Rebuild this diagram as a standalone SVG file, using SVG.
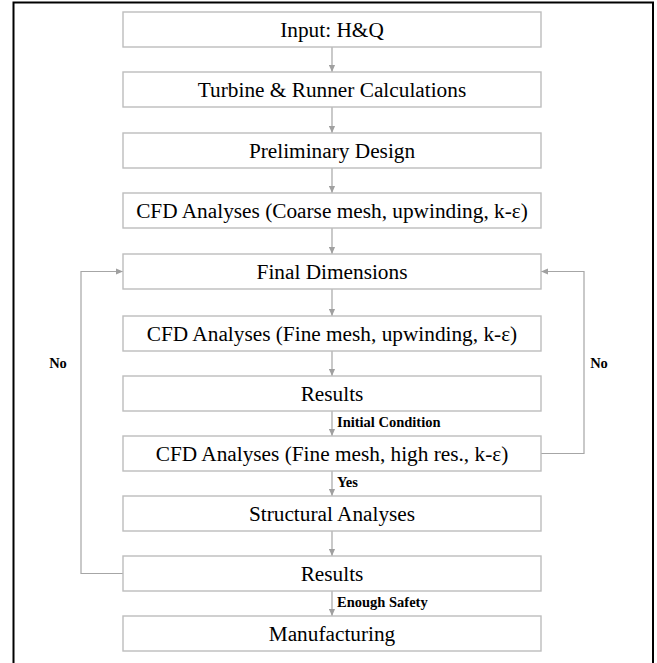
<svg xmlns="http://www.w3.org/2000/svg" width="657" height="663" viewBox="0 0 657 663">
  <style>
    .box { fill: #ffffff; stroke: #bdbdbd; stroke-width: 1.4; }
    .txt { font-family: 'Liberation Serif', 'Times New Roman', serif; font-size: 21.3px; fill: #000; text-anchor: middle; }
    .lbl { font-family: 'Liberation Serif', 'Times New Roman', serif; font-size: 14.5px; font-weight: bold; fill: #000; }
    .edge { fill: none; stroke: #a6a6a6; stroke-width: 1.2; }
  </style>
  <defs>
    <marker id="arrow" viewBox="0 0 8 8" refX="8" refY="4" markerWidth="7" markerHeight="7" markerUnits="userSpaceOnUse" orient="auto">
      <path d="M0,0.5 L8,4 L0,7.5 Z" fill="#a0a0a0"/>
    </marker>
  </defs>
  <rect width="657" height="663" fill="#ffffff"/>
  <!-- frame, open at the bottom edge of the canvas -->
  <rect x="13.5" y="2.5" width="639.5" height="670" fill="none" stroke="#000" stroke-width="2"/>

  <g id="connectors">
    <line class="edge" x1="332" y1="47" x2="332" y2="72" marker-end="url(#arrow)"/>
    <line class="edge" x1="332" y1="107" x2="332" y2="133" marker-end="url(#arrow)"/>
    <line class="edge" x1="332" y1="168" x2="332" y2="193" marker-end="url(#arrow)"/>
    <line class="edge" x1="332" y1="228" x2="332" y2="254" marker-end="url(#arrow)"/>
    <line class="edge" x1="332" y1="289" x2="332" y2="316" marker-end="url(#arrow)"/>
    <line class="edge" x1="332" y1="351" x2="332" y2="376" marker-end="url(#arrow)"/>
    <line class="edge" x1="332" y1="411" x2="332" y2="436" marker-end="url(#arrow)"/>
    <line class="edge" x1="332" y1="471" x2="332" y2="496" marker-end="url(#arrow)"/>
    <line class="edge" x1="332" y1="531" x2="332" y2="556" marker-end="url(#arrow)"/>
    <line class="edge" x1="332" y1="591" x2="332" y2="616" marker-end="url(#arrow)"/>
    <polyline class="edge" points="123,573.5 81,573.5 81,271.5 123,271.5" marker-end="url(#arrow)"/>
    <polyline class="edge" points="541,453.5 584,453.5 584,271.5 541,271.5" marker-end="url(#arrow)"/>
    <text class="lbl" x="337" y="427">Initial Condition</text>
    <text class="lbl" x="337" y="487">Yes</text>
    <text class="lbl" x="337" y="607">Enough Safety</text>
    <text class="lbl" x="58" y="368" text-anchor="middle">No</text>
    <text class="lbl" x="599" y="368" text-anchor="middle">No</text>
  </g>

  <g id="input">
    <rect class="box" x="123" y="12" width="418" height="35"/>
    <text class="txt" x="332" y="37">Input: H&amp;Q</text>
  </g>
  <g id="turbine-runner">
    <rect class="box" x="123" y="72" width="418" height="35"/>
    <text class="txt" x="332" y="97">Turbine &amp; Runner Calculations</text>
  </g>
  <g id="preliminary-design">
    <rect class="box" x="123" y="133" width="418" height="35"/>
    <text class="txt" x="332" y="158">Preliminary Design</text>
  </g>
  <g id="cfd-coarse">
    <rect class="box" x="123" y="193" width="418" height="35"/>
    <text class="txt" x="332" y="218">CFD Analyses (Coarse mesh, upwinding, k-ε)</text>
  </g>
  <g id="final-dimensions">
    <rect class="box" x="123" y="254" width="418" height="35"/>
    <text class="txt" x="332" y="279">Final Dimensions</text>
  </g>
  <g id="cfd-fine-upwind">
    <rect class="box" x="123" y="316" width="418" height="35"/>
    <text class="txt" x="332" y="341">CFD Analyses (Fine mesh, upwinding, k-ε)</text>
  </g>
  <g id="results-cfd">
    <rect class="box" x="123" y="376" width="418" height="35"/>
    <text class="txt" x="332" y="401">Results</text>
  </g>
  <g id="cfd-fine-highres">
    <rect class="box" x="123" y="436" width="418" height="35"/>
    <text class="txt" x="332" y="461">CFD Analyses (Fine mesh, high res., k-ε)</text>
  </g>
  <g id="structural">
    <rect class="box" x="123" y="496" width="418" height="35"/>
    <text class="txt" x="332" y="521">Structural Analyses</text>
  </g>
  <g id="results-structural">
    <rect class="box" x="123" y="556" width="418" height="35"/>
    <text class="txt" x="332" y="581">Results</text>
  </g>
  <g id="manufacturing">
    <rect class="box" x="123" y="616" width="418" height="35"/>
    <text class="txt" x="332" y="641">Manufacturing</text>
  </g>
</svg>
